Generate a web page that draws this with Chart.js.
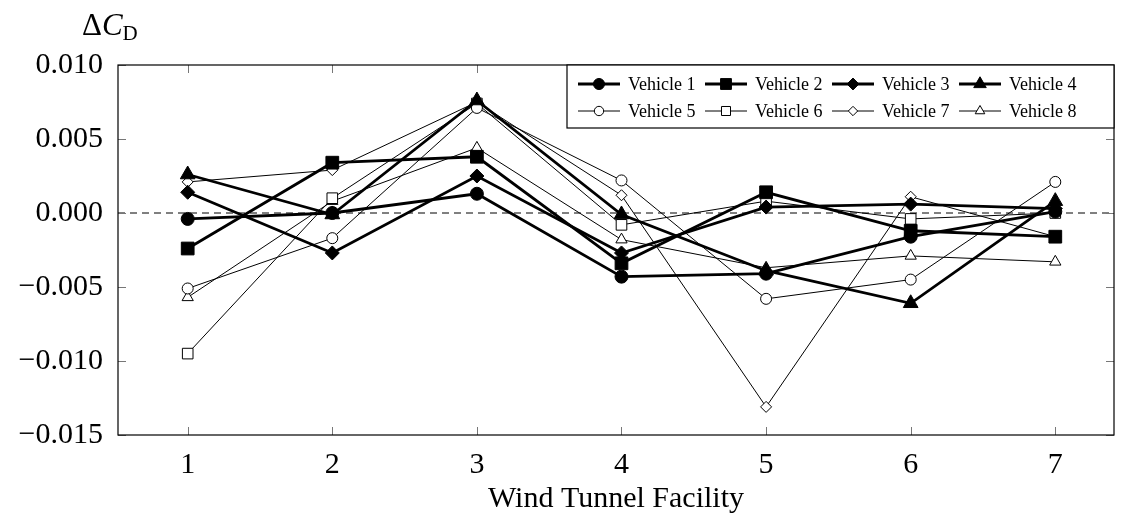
<!DOCTYPE html>
<html>
<head>
<meta charset="utf-8">
<script src="https://cdn.jsdelivr.net/npm/chart.js@4.4.0/dist/chart.umd.min.js"></script>
<style>
html, body { margin: 0; padding: 0; background: #fff; }
#wrap { width: 1124px; height: 517px; }
</style>
</head>
<body>
<div id="wrap"><canvas id="dragchart"></canvas></div>
<script>
const facilities = [1, 2, 3, 4, 5, 6, 7];
const vehicleNames = ['Vehicle 1', 'Vehicle 2', 'Vehicle 3', 'Vehicle 4',
                      'Vehicle 5', 'Vehicle 6', 'Vehicle 7', 'Vehicle 8'];

const vehicle1 = [-0.0004, 0.0000, 0.0013, -0.0043, -0.0041, -0.0016, 0.0001];
const vehicle2 = [-0.0024, 0.0034, 0.0038, -0.0034, 0.0014, -0.0012, -0.0016];
const vehicle3 = [0.0014, -0.0027, 0.0025, -0.0027, 0.0004, 0.0006, 0.0003];
const vehicle4 = [0.0026, -0.0001, 0.0076, -0.0001, -0.0039, -0.0061, 0.0008];
const vehicle5 = [-0.0051, -0.0017, 0.0071, 0.0022, -0.0058, -0.0045, 0.0021];
const vehicle6 = [-0.0095, 0.0010, 0.0074, -0.0008, 0.0008, -0.0004, 0.0000];
const vehicle7 = [0.0021, 0.0029, 0.0075, 0.0012, -0.0131, 0.0011, -0.0016];
const vehicle8 = [-0.0057, 0.0008, 0.0044, -0.0018, -0.0037, -0.0029, -0.0033];

const yTicks = [-0.015, -0.010, -0.005, 0.000, 0.005, 0.010];

const allSeries = [vehicle1, vehicle2, vehicle3, vehicle4, vehicle5, vehicle6, vehicle7, vehicle8];

// marker look per vehicle (thick filled / thin open)
const markers = ['circle', 'rect', 'rectRot', 'triangle', 'circle', 'rect', 'rectRot', 'triangle'];
const thickRadius = { circle: 6.5, rect: 9, rectRot: 7, triangle: 8.5 };
const thinRadius = { circle: 5.5, rect: 7.5, rectRot: 5.5, triangle: 6.5 };

const serif = '"Liberation Serif", "DejaVu Serif", serif';

const datasets = allSeries.map((vals, i) => {
    const thick = i < 4;
    const m = markers[i];
    return {
        label: vehicleNames[i],
        data: facilities.map((f, j) => ({ x: f, y: vals[j] })),
        borderColor: '#000',
        borderWidth: thick ? 2.8 : 1,
        pointStyle: m,
        pointRadius: thick ? thickRadius[m] : thinRadius[m],
        pointBackgroundColor: thick ? '#000' : '#fff',
        pointBorderColor: '#000',
        pointBorderWidth: 1,
        tension: 0,
        fill: false
    };
});

function drawMarker(ctx, style, x, y, r, filled) {
    ctx.beginPath();
    if (style === 'circle') {
        ctx.arc(x, y, r, 0, Math.PI * 2);
    } else if (style === 'rect') {
        const s = r * Math.SQRT1_2;
        ctx.rect(x - s, y - s, 2 * s, 2 * s);
    } else if (style === 'rectRot') {
        ctx.moveTo(x, y - r); ctx.lineTo(x + r, y); ctx.lineTo(x, y + r); ctx.lineTo(x - r, y);
        ctx.closePath();
    } else {
        for (let k = 0; k < 3; k++) {
            const a = k * 2 * Math.PI / 3;
            const px = x + Math.sin(a) * r, py = y - Math.cos(a) * r;
            if (k === 0) ctx.moveTo(px, py); else ctx.lineTo(px, py);
        }
        ctx.closePath();
    }
    ctx.fillStyle = filled ? '#000' : '#fff';
    ctx.fill();
    ctx.lineWidth = 1;
    ctx.strokeStyle = '#000';
    ctx.stroke();
}

const framePlugin = {
    id: 'frame',
    beforeDatasetsDraw(chart) {
        const { ctx, chartArea: a, scales } = chart;
        const y0 = scales.y.getPixelForValue(0);
        ctx.save();
        ctx.strokeStyle = '#000';
        ctx.lineWidth = 1;
        ctx.setLineDash([7, 5]);
        ctx.beginPath();
        ctx.moveTo(a.left, y0);
        ctx.lineTo(a.right, y0);
        ctx.stroke();
        ctx.restore();
    },
    afterDraw(chart) {
        const { ctx, chartArea: a, scales } = chart;
        ctx.save();
        // inward tick marks
        ctx.strokeStyle = '#777';
        ctx.lineWidth = 1;
        ctx.beginPath();
        facilities.forEach(f => {
            const px = Math.round(scales.x.getPixelForValue(f)) + 0.5;
            ctx.moveTo(px, a.top); ctx.lineTo(px, a.top + 8);
            ctx.moveTo(px, a.bottom); ctx.lineTo(px, a.bottom - 8);
        });
        yTicks.forEach(v => {
            const py = Math.round(scales.y.getPixelForValue(v)) + 0.5;
            ctx.moveTo(a.left, py); ctx.lineTo(a.left + 8, py);
            ctx.moveTo(a.right, py); ctx.lineTo(a.right - 8, py);
        });
        ctx.stroke();

        // frame
        ctx.strokeStyle = '#000';
        ctx.lineWidth = 1.2;
        ctx.strokeRect(a.left, a.top, a.right - a.left, a.bottom - a.top);

        // y title: ΔC_D
        ctx.fillStyle = '#000';
        ctx.textBaseline = 'alphabetic';
        ctx.font = '31px ' + serif;
        ctx.fillText('Δ', 82, 35);
        const dw = ctx.measureText('Δ').width;
        ctx.font = 'italic 31px ' + serif;
        ctx.fillText('C', 82 + dw, 35);
        const cw = ctx.measureText('C').width;
        ctx.font = '21px ' + serif;
        ctx.fillText('D', 82 + dw + cw, 40);

        // legend box
        const lx = 567, ly = a.top, lw = a.right - lx, lh = 63;
        ctx.fillStyle = '#fff';
        ctx.fillRect(lx, ly, lw, lh);
        ctx.strokeStyle = '#000';
        ctx.lineWidth = 1.2;
        ctx.strokeRect(lx, ly, lw, lh);
        ctx.font = '18px ' + serif;
        ctx.textBaseline = 'middle';
        vehicleNames.forEach((name, i) => {
            const row = Math.floor(i / 4), col = i % 4;
            const x0 = 578 + col * 127;
            const yc = ly + 19 + row * 27;
            const thick = i < 4;
            ctx.strokeStyle = '#000';
            ctx.lineWidth = thick ? 2.8 : 1;
            ctx.beginPath();
            ctx.moveTo(x0, yc); ctx.lineTo(x0 + 42, yc);
            ctx.stroke();
            const m = markers[i];
            const r = (thick ? thickRadius[m] : thinRadius[m]) * 0.85;
            drawMarker(ctx, m, x0 + 21, yc, r, thick);
            ctx.fillStyle = '#000';
            ctx.fillText(name, x0 + 50, yc + 1);
        });
        ctx.restore();
    }
};

const config = {
    type: 'line',
    data: { datasets: datasets },
    options: {
        responsive: true,
        maintainAspectRatio: false,
        animation: false,
        layout: { padding: { top: 65, right: 6, left: 0, bottom: 0 } },
        plugins: {
            legend: { display: false },
            tooltip: { enabled: false }
        },
        scales: {
            x: {
                type: 'linear',
                min: 0.518,
                max: 7.406,
                grid: { display: false, drawTicks: false },
                border: { display: false },
                afterBuildTicks: axis => { axis.ticks = facilities.map(v => ({ value: v })); },
                afterFit: axis => { axis.height = 82; },
                ticks: {
                    color: '#000',
                    padding: 12,
                    font: { family: serif, size: 30 },
                    callback: v => String(v)
                },
                title: {
                    display: true,
                    text: 'Wind Tunnel Facility',
                    color: '#000',
                    padding: { top: 0, bottom: 0 },
                    font: { family: serif, size: 30 }
                }
            },
            y: {
                min: -0.015,
                max: 0.010,
                grid: { display: false, drawTicks: false },
                border: { display: false },
                afterBuildTicks: axis => { axis.ticks = yTicks.map(v => ({ value: v })); },
                afterFit: axis => { axis.width = 118; },
                ticks: {
                    color: '#000',
                    padding: 15,
                    font: { family: serif, size: 30 },
                    callback: v => (v < 0 ? '\u2212' : '') + Math.abs(v).toFixed(3)
                }
            }
        }
    },
    plugins: [framePlugin]
};

const dragChart = new Chart(document.getElementById('dragchart'), config);
</script>
</body>
</html>
